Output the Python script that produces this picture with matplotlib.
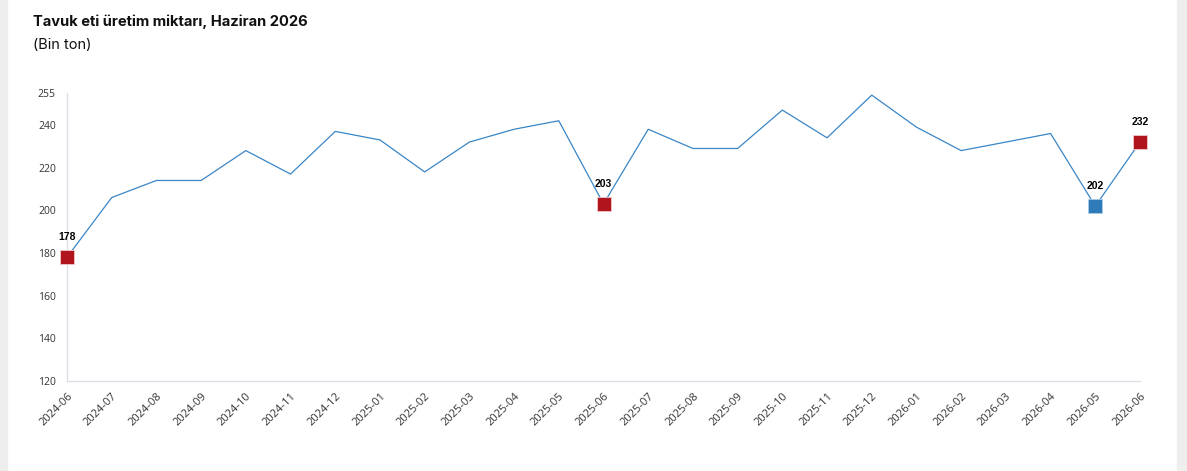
import matplotlib
matplotlib.use("Agg")
import matplotlib.pyplot as plt
from matplotlib.patches import Rectangle

# data
months = ["2024-06", "2024-07", "2024-08", "2024-09", "2024-10", "2024-11",
          "2024-12", "2025-01", "2025-02", "2025-03", "2025-04", "2025-05",
          "2025-06", "2025-07", "2025-08", "2025-09", "2025-10", "2025-11",
          "2025-12", "2026-01", "2026-02", "2026-03", "2026-04", "2026-05",
          "2026-06"]
production = [178, 206, 214, 214, 228, 217, 237, 233, 218, 232, 238, 242,
              203, 238, 229, 229, 247, 234, 254, 239, 228, 232, 236, 202, 232]
highlight_months = ["2024-06", "2025-06", "2026-05", "2026-06"]
highlight_colors = ["#b0141c", "#b0141c", "#2f7ab8", "#b0141c"]
y_ticks = [120, 140, 160, 180, 200, 220, 240, 255]

title = "Tavuk eti üretim miktarı, Haziran 2026"
subtitle = "(Bin ton)"

plt.rcParams['font.family'] = ['Open Sans', 'DejaVu Sans']

fig = plt.figure(figsize=(11.87, 4.71), dpi=100)
fig.patch.set_facecolor("white")

# grey side strips like the page behind the card
fig.add_artist(Rectangle((0, 0), 7 / 1187, 1, transform=fig.transFigure,
                         color="#eeeeee", zorder=0))
fig.add_artist(Rectangle((1177 / 1187, 0), 10 / 1187, 1, transform=fig.transFigure,
                         color="#eeeeee", zorder=0))

ax = fig.add_axes([67 / 1187, 1 - 381 / 471, (1140 - 67) / 1187, (381 - 93) / 471])
x = list(range(len(months)))
ax.plot(x, production, color="#3a86c6", linewidth=0.9, zorder=2)

for m, c in zip(highlight_months, highlight_colors):
    i = months.index(m)
    ax.plot(x[i], production[i], marker="s", markersize=9.5, color=c,
            markeredgecolor="#f2c9cb" if c == "#b0141c" else "#a9cbe6",
            markeredgewidth=0.6, zorder=3, clip_on=False)
    ax.annotate(str(production[i]), (x[i], production[i]), xytext=(0, 11),
                textcoords="offset points", ha="center", va="bottom",
                fontsize=7.5, fontweight="bold", color="black",
                family=['Liberation Sans', 'DejaVu Sans'])

ax.set_xlim(0, len(months) - 1)
ax.set_ylim(120, 255)
ax.set_yticks(y_ticks)
ax.set_yticklabels([str(v) for v in y_ticks])
ax.set_xticks(x)
ax.set_xticklabels(months, rotation=45, ha="right", va="top", rotation_mode="anchor")
ax.tick_params(axis="both", length=0, labelcolor="#333333")
ax.tick_params(axis="y", pad=8, labelsize=7.5)
ax.tick_params(axis="x", pad=7, labelsize=8)

for side in ["top", "right"]:
    ax.spines[side].set_visible(False)
for side in ["left", "bottom"]:
    ax.spines[side].set_color("#dcdde6")
    ax.spines[side].set_linewidth(0.9)

fig.text(33 / 1187, 1 - 22 / 471, title, fontsize=10.6, fontweight="bold",
         family=['Inter', 'DejaVu Sans'], color="#111111", va="center")
fig.text(33 / 1187, 1 - 45 / 471, subtitle, fontsize=10.5,
         family=['Inter', 'DejaVu Sans'], color="#111111", va="center")

fig.savefig("out.png", dpi=100)
